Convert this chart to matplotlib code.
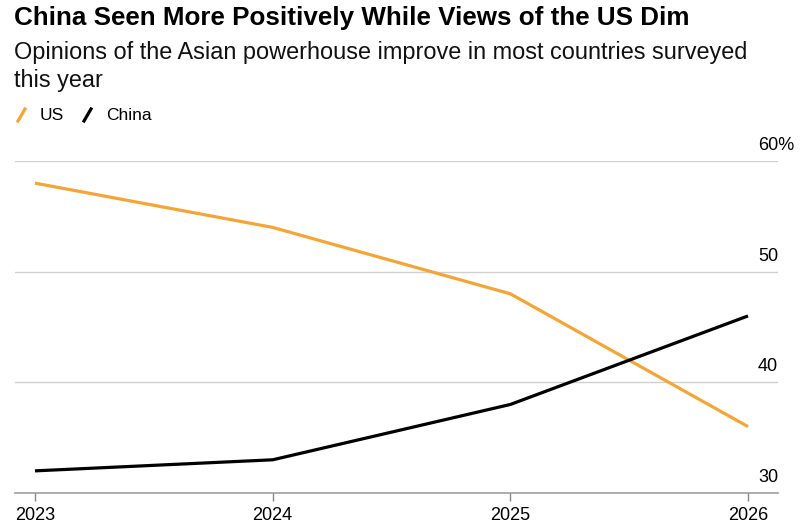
import matplotlib
matplotlib.use("Agg")
import matplotlib.pyplot as plt
from matplotlib.lines import Line2D

# --- Data ---
years = [2023, 2024, 2025, 2026]
us_values = [58, 54, 48, 36]
china_values = [32, 33, 38, 46]
y_ticks = [30, 40, 50, 60]
y_labels = ["30", "40", "50", "60%"]

US_COLOR = "#F5A535"
CHINA_COLOR = "#000000"

plt.rcParams["font.family"] = ["Liberation Sans", "DejaVu Sans"]

fig = plt.figure(figsize=(8, 5.25), dpi=100)
ax = fig.add_axes([15 / 800, 1 - 493 / 525, (778 - 15) / 800, (493 - 161) / 525])

# --- Lines ---
ax.plot(years, us_values, color=US_COLOR, lw=2.3, solid_capstyle="butt")
ax.plot(years, china_values, color=CHINA_COLOR, lw=2.3, solid_capstyle="butt")

ax.set_xlim(2023 - 20 / 237.7, 2026 + 30 / 237.7)
ax.set_ylim(30, 60)

# gridlines
for t in y_ticks[1:]:
    ax.axhline(t, color="#d0d0d0", lw=1, zorder=0)
ax.axhline(30, color="#a0a0a0", lw=1.2, zorder=0, clip_on=False)

for sp in ax.spines.values():
    sp.set_visible(False)

ax.set_yticks([])
ax.set_xticks(years)
ax.set_xticklabels([str(y) for y in years], fontsize=13)
ax.tick_params(axis="x", length=6, width=1, color="#888888", pad=4)

# y labels above gridlines on right
for t, lab in zip(y_ticks, y_labels):
    ax.annotate(lab, xy=(758 / 800, t), xycoords=("figure fraction", "data"),
                xytext=(0, 5), textcoords="offset points",
                ha="left", va="bottom", fontsize=13)

# --- Titles ---
fig.text(14 / 800, 1 - 18 / 525, "China Seen More Positively While Views of the US Dim",
         fontsize=18.7, fontweight="bold", va="center", ha="left")
fig.text(14 / 800, 1 - 52 / 525, "Opinions of the Asian powerhouse improve in most countries surveyed",
         fontsize=16.9, va="center", ha="left", color="#111111")
fig.text(14 / 800, 1 - 80 / 525, "this year",
         fontsize=16.9, va="center", ha="left", color="#111111")

# --- Legend ---
leg_y = 1 - 115 / 525
for x0, col, name in [(18, US_COLOR, "US"), (84, CHINA_COLOR, "China")]:
    fig.add_artist(Line2D([x0 / 800, (x0 + 7) / 800],
                          [leg_y - 6 / 525, leg_y + 6 / 525],
                          color=col, lw=2.3, transform=fig.transFigure))
    fig.text((x0 + 22) / 800, leg_y, name, fontsize=12.5, va="center", ha="left")

fig.savefig("out.png", dpi=100)
